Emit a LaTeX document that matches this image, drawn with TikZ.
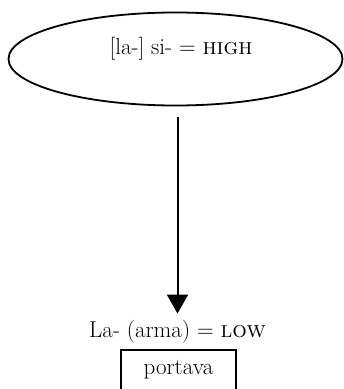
\documentclass[tikz,border=0pt]{standalone}
\usepackage{fontspec}
\usetikzlibrary{arrows.meta,positioning,shapes.geometric}
\tikzset{
  gloss/.style={font=\fontsize{23}{26}\selectfont,inner sep=1pt},
  oval/.style={ellipse,draw,line width=1.8pt,minimum width=334pt,minimum height=93pt,inner sep=0pt},
  framebox/.style={draw,line width=1.3pt,minimum width=115pt,minimum height=40pt,font=\fontsize{23}{26}\selectfont},
  arr/.style={-{Triangle[length=19pt,width=21pt]},line width=2pt}
}
\begin{document}
\begin{tikzpicture}[x=1pt,y=1pt]
\path[use as bounding box] (0,0) rectangle (344,389);

\node[oval] (top) at (175.5,330) {};
\node[gloss,anchor=base] (toplbl) at (181,334) {[la-] si- = \textsc{high}};

\node[gloss,anchor=base] (low) at (177.5,51) {La- (arma) = \textsc{low}};
\node[framebox] (verb) at (178.5,19) {portava};

\draw[arr,shorten <=11pt,shorten >=6pt] (top.south -| low.north) -- (low.north);
\end{tikzpicture}
\end{document}
